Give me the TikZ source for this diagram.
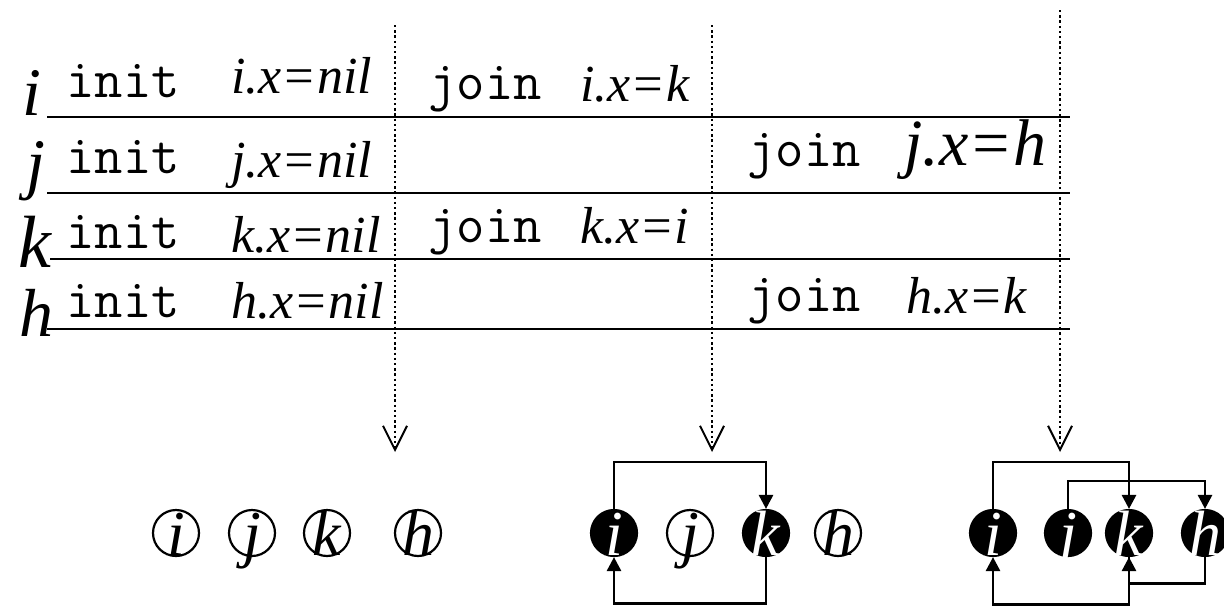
\documentclass[tikz,border=0pt]{standalone}
\usepackage{fontspec}
\setmainfont{Liberation Serif}
\newfontfamily\tmsit[ItalicFont={Liberation Serif Italic}]{Liberation Serif}
\usetikzlibrary{arrows.meta}
\begin{document}
\begin{tikzpicture}[x=0.5pt,y=-0.5pt,
  lane/.style={line width=1.4pt},
  proclbl/.style={anchor=base west, inner sep=0pt, font=\fontsize{34}{36}\selectfont\tmsit\itshape},
  mono/.style={anchor=base west, inner sep=0pt, font=\fontsize{27.5}{30}\selectfont\ttfamily},
  form/.style={anchor=base west, inner sep=0pt, font=\fontsize{26}{30}\selectfont\tmsit\itshape},
  bigform/.style={anchor=base west, inner sep=0pt, font=\fontsize{33}{36}\selectfont\tmsit\itshape},
  probe/.style={line width=1.2pt, dash pattern=on 1.2pt off 1.4pt,
    -{Straight Barb[length=12pt,width=12pt,line width=1pt]}},
  proc/.style={circle, draw, line width=1.1pt, minimum size=23pt, inner sep=0pt,
    text height=22pt, text depth=0pt, font=\fontsize{32}{34}\selectfont\tmsit\itshape},
  done/.style={proc, fill=black, text=white},
  conn/.style={line width=1.4pt, -{Triangle[length=7pt,width=7pt]}}
]
\useasboundingbox (0,0) rectangle (1224,605);

% process labels
\node[proclbl] (li) at (22,115) {i};
\node[proclbl] (lj) at (26,186) {j};
\node[proclbl, font=\fontsize{37}{38}\selectfont\tmsit\itshape] (lk) at (18,267) {k};
\node[proclbl] (lh) at (19,336) {h};

% lanes
\coordinate (ai) at (47,117);  \coordinate (bi) at (1070,117);
\coordinate (aj) at (47,193);  \coordinate (bj) at (1070,193);
\coordinate (ak) at (50,259);  \coordinate (bk) at (1070,259);
\coordinate (ah) at (47,329);  \coordinate (bh) at (1070,329);
\draw[lane] (ai) -- (bi);
\draw[lane] (aj) -- (bj);
\draw[lane] (ak) -- (bk);
\draw[lane] (ah) -- (bh);

% column 1
\node[mono] (ii) at (66,97) {init};
\node[form] (fi) at (231,93) {i.x=nil};
\node[mono] (ij) at (66,173) {init};
\node[form] (fj) at (231,177) {j.x=nil};
\node[mono] (ik) at (66,248) {init};
\node[form] (fk) at (231,252) {k.x=nil};
\node[mono] (ih) at (66,317) {init};
\node[form] (fh) at (231,318) {h.x=nil};

% column 2
\node[mono] (ji) at (428,99) {join};
\node[form] (gi) at (580,101) {i.x=k};
\node[mono] (jk) at (428,242) {join};
\node[form] (gk) at (580,243) {k.x=i};

% column 3
\node[mono] (jj) at (747,166) {join};
\node[bigform] (gj) at (904,165) {j.x=h};
\node[mono] (jh) at (747,311) {join};
\node[form] (gh) at (906,313) {h.x=k};

% probes
\coordinate (p1t) at (395,25);  \coordinate (p1b) at (395,452);
\coordinate (p2t) at (712,25);  \coordinate (p2b) at (712,452);
\coordinate (p3t) at (1060,10); \coordinate (p3b) at (1060,452);
\draw[probe] (p1t) -- (p1b);
\draw[probe] (p2t) -- (p2b);
\draw[probe] (p3t) -- (p3b);

% snapshot 1
\node[proc] (s1i) at (176,533) {\makebox[0pt]{i}};
\node[proc] (s1j) at (252,533) {\makebox[0pt]{j}};
\node[proc] (s1k) at (327,533) {\makebox[0pt]{k}};
\node[proc] (s1h) at (418,533) {\makebox[0pt]{h}};

% snapshot 2
\node[done] (s2i) at (614,533) {\makebox[0pt]{i}};
\node[proc] (s2j) at (690,533) {\makebox[0pt]{j}};
\node[done] (s2k) at (766,533) {\makebox[0pt]{k}};
\node[proc] (s2h) at (838,533) {\makebox[0pt]{h}};
\draw[conn] (s2i.north) -- ++(0,-47) -| (s2k.north);
\draw[conn] (s2k.south) -- ++(0,46) -| (s2i.south);

% snapshot 3
\node[done] (s3i) at (993,533) {\makebox[0pt]{i}};
\node[done] (s3j) at (1068,533) {\makebox[0pt]{j}};
\node[done] (s3k) at (1129,533) {\makebox[0pt]{k}};
\node[done] (s3h) at (1205,533) {\makebox[0pt]{h}};
\draw[conn] (s3i.north) -- ++(0,-47) -| (s3k.north);
\draw[conn] (s3j.north) -- ++(0,-28) -| (s3h.north);
\draw[conn] (s3k.south) -- ++(0,47) -| (s3i.south);
\draw[conn] (s3h.south) -- ++(0,26) -| (s3k.south);
\end{tikzpicture}
\end{document}
